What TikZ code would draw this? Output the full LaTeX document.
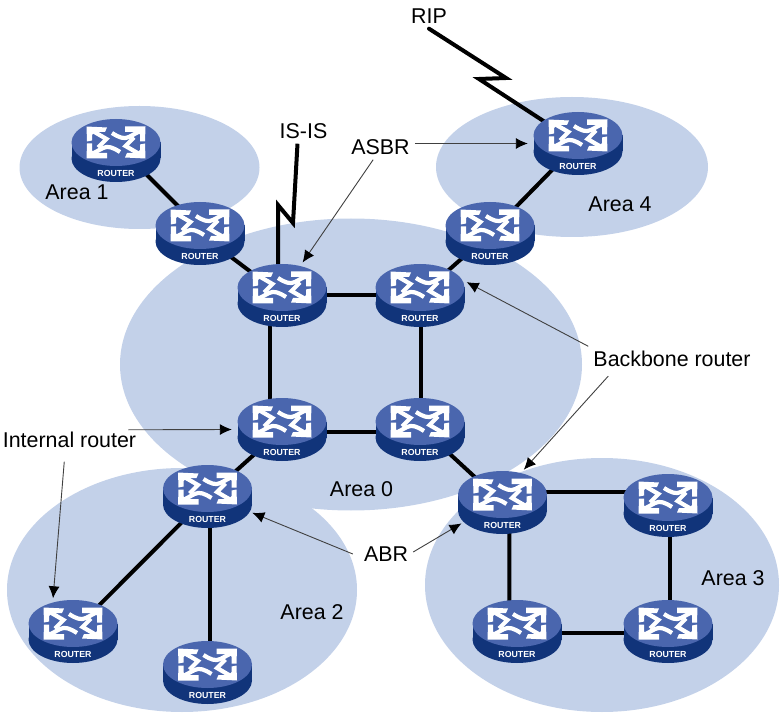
\documentclass[tikz,border=0pt]{standalone}
\usepackage{fontspec}
\setmainfont{Liberation Sans}
\usetikzlibrary{arrows.meta,shapes.geometric}
\definecolor{areablue}{HTML}{C3D1E9}
\definecolor{routertop}{HTML}{4A66AE}
\definecolor{routerside}{HTML}{11347A}
\tikzset{
  area/.style={fill=areablue},
  tag/.style={font=\fontsize{21.4}{21.4}\selectfont,text height=15pt,text depth=0pt,inner sep=5pt,text=black},
  anchorbox/.style={shape=ellipse,minimum width=100pt,minimum height=72pt,inner sep=0pt},
  link/.style={line width=4pt,black},
  callout/.style={line width=0.9pt,draw=black!75,-{Latex[length=12pt,width=11pt,black]}},
  halficon/.pic={
    \fill[white] (-29.5,-16) -- (-9,-15) -- (-11,-10.5) -- (-21,-10.5) -- (-24,-7.5) -- (-24,-2) -- (-29,-1) -- cycle;
    \draw[white,line width=4.2pt,line join=miter] (-25,-12.5) -- (-9.5,-3.5) -- (-18,5);
    \fill[white] (-29.5,16) -- (-29,1) -- (-24,1) -- (-24,8) -- (-21,10.5) -- (-9,10.5) -- (-9,16) -- cycle;
    \draw[white,line width=4.2pt] (-25,12) -- (-13,5.5) .. controls (-8,3) and (-3,5) .. (4,9.5);
  },
  router/.pic={
    \fill[routerside] (-44.5,0) rectangle (44.5,16);
    \fill[routerside] (0,16) ellipse [x radius=44.5pt,y radius=23.5pt];
    \fill[routertop] (0,0) ellipse [x radius=44.5pt,y radius=23.5pt];
    \pic {halficon};
    \pic[rotate=180] {halficon};
    \node (-text) at (0,30.5) [text=white,inner sep=0pt,font=\fontsize{8.8}{8.8}\selectfont\bfseries] {ROUTER};
  }
}
\begin{document}
\begin{tikzpicture}[x=1pt,y=-1pt]
\useasboundingbox (0,0) rectangle (780,714);
% areas
\fill[area] (139.5,167.5) ellipse [x radius=120pt,y radius=61.5pt];
\fill[area] (572,167) ellipse [x radius=136pt,y radius=70pt];
\fill[area] (351,364.5) ellipse [x radius=231pt,y radius=146pt];
\fill[area] (182,590) ellipse [x radius=175pt,y radius=122pt];
\fill[area] (602,585) ellipse [x radius=177pt,y radius=127pt];
% router anchors (top-disc centre + 8)
\node[anchorbox] (r1) at (116,150.5) {};
\node[anchorbox] (r2) at (200,233.5) {};
\node[anchorbox] (r3) at (282,295.5) {};
\node[anchorbox] (r4) at (420,295.5) {};
\node[anchorbox] (r5) at (490,233.5) {};
\node[anchorbox] (r6) at (578,143.5) {};
\node[anchorbox] (r7) at (282,429.5) {};
\node[anchorbox] (r8) at (420,429.5) {};
\node[anchorbox] (r9) at (207.5,496.5) {};
\node[anchorbox] (r10) at (73,631.5) {};
\node[anchorbox] (r11) at (207.5,672.5) {};
\node[anchorbox] (r12) at (502.5,502.5) {};
\node[anchorbox] (r13) at (668,505.5) {};
\node[anchorbox] (r14) at (517,631.5) {};
\node[anchorbox] (r15) at (668,631.5) {};
% labels
\node[tag] (rip) at (429,16) {RIP};
\node[tag] (isis) at (303.5,131) {IS-IS};
\node[tag] (asbr) at (380.5,147) {ASBR};
\node[tag] (area1) at (77,192) {Area 1};
\node[tag] (area4) at (620,204) {Area 4};
\node[tag] (area0) at (361.5,489) {Area 0};
\node[tag] (area2) at (312,612) {Area 2};
\node[tag] (area3) at (733,578) {Area 3};
\node[tag] (backbone) at (672,359) {Backbone router};
\node[tag] (internal) at (69.5,440) {Internal router};
\node[tag] (abr) at (386,554) {ABR};
% links
\draw[link] ([yshift=6.5pt]r1.center) -- ([yshift=5.5pt]r2.center);
\draw[link] (r2.center) -- (r3.center);
\draw[link] (r3.center) -- (r4.center);
\draw[link] ([xshift=-12pt]r3.center) -- ([xshift=-12pt]r7.center);
\draw[link] ([xshift=1pt]r4.center) -- ([xshift=1pt]r8.center);
\draw[link] (r4.center) -- (r5.center);
\draw[link] (r5.center) -- (r6.center);
\draw[link] ([yshift=-2.5pt]r7.center) -- ([yshift=-2.5pt]r8.center);
\draw[link] (r7.center) -- (r9.center);
\draw[link] ([yshift=3pt]r8.center) -- (r12.center);
\draw[link] (r9.center) -- (r10.center);
\draw[link] ([xshift=2pt]r9.center) -- ([xshift=2pt]r11.center);
\draw[link] ([yshift=10.5pt]r12.center) -- ([yshift=13.5pt]r13.center);
\draw[link] ([xshift=7pt]r12.center) -- ([xshift=-7.7pt]r14.center);
\draw[link] ([xshift=2pt]r13.center) -- ([xshift=2pt]r15.center);
\draw[link] ([yshift=-1.5pt]r14.center) -- ([yshift=-1.5pt]r15.center);
% serial wires
\draw[link,line join=miter,line cap=round] (rip.south) -- (506,78) -- (479,79) -- (r6.center);
\draw[link,line join=miter] ([xshift=-6pt]isis.south) -- (293,223) -- (278,205) -- ([xshift=-4pt]r3.center);
% routers
\foreach \n in {r1,r2,r3,r4,r5,r6,r7,r8,r9,r10,r11,r12,r13,r14,r15}{
  \pic (p\n) at ([yshift=8pt]\n.center) {router};
}
% callouts
\draw[callout] ([yshift=3.5pt]asbr.east) -- (r6.180);
\draw[callout] (asbr.-120) -- (r3.58);
\draw[callout] (backbone.north west) -- (r4.16);
\draw[callout,shorten <=6pt] (backbone.-168) -- (r12.57);
\draw[callout] ([xshift=-13pt,yshift=-2.5pt]internal.north east) -- (r7.180);
\draw[callout,shorten <=9pt] ([xshift=-4.5pt]internal.south) -- (r10.121);
\draw[callout] ([xshift=-6pt]abr.west) -- (r9.-20);
\draw[callout] ([yshift=2pt]abr.east) -- (r12.207);
\end{tikzpicture}
\end{document}
